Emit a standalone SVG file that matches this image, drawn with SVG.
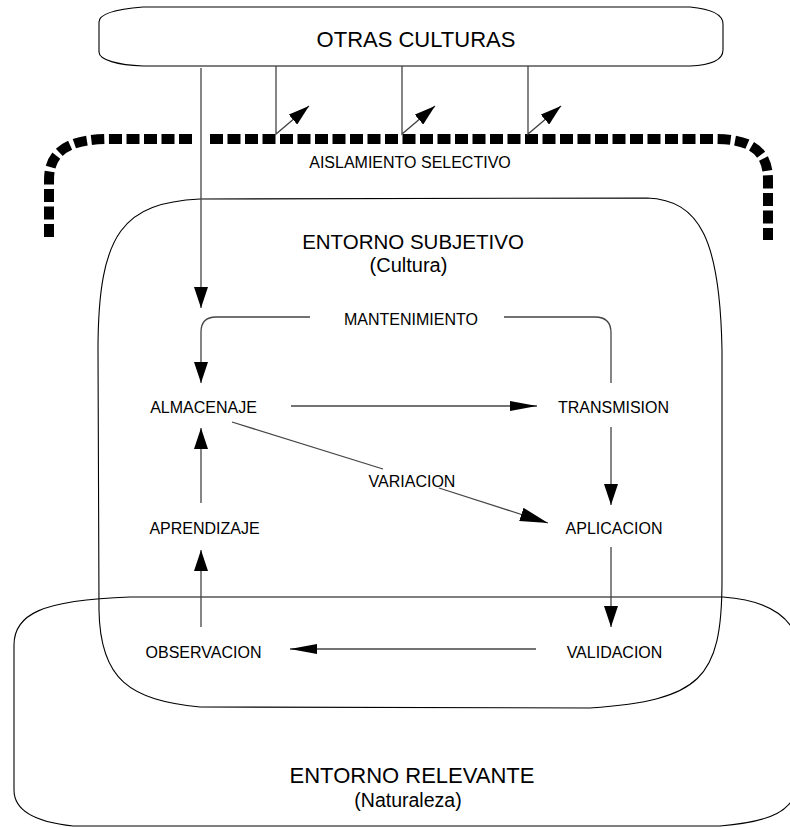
<svg xmlns="http://www.w3.org/2000/svg" width="790" height="827" viewBox="0 0 790 827">
<style>
.box{fill:none;stroke:#000;stroke-width:1.1}
.bar{fill:none;stroke:#000;stroke-width:10;stroke-dasharray:13 4.5}
.c{fill:none;stroke:#444;stroke-width:1.3}
.t{font-family:"Liberation Sans",Arial,sans-serif;fill:#000;text-anchor:middle}
.s16{font-size:16px}
</style>
<defs>
<marker id="v" viewBox="0 0 21 14" refX="21" refY="7" markerWidth="21" markerHeight="14" markerUnits="userSpaceOnUse" orient="auto"><path d="M0,0 L21,7 L0,14 Z" fill="#000"/></marker>
<marker id="h" viewBox="0 0 27 10" refX="27" refY="5" markerWidth="27" markerHeight="10" markerUnits="userSpaceOnUse" orient="auto"><path d="M0,0 L27,5 L0,10 Z" fill="#000"/></marker>
<marker id="d" viewBox="0 0 28 14" refX="28" refY="7" markerWidth="28" markerHeight="14" markerUnits="userSpaceOnUse" orient="auto"><path d="M0,0 L28,7 L0,14 Z" fill="#000"/></marker>
<marker id="s" viewBox="0 0 21 13" refX="21" refY="6.5" markerWidth="21" markerHeight="13" markerUnits="userSpaceOnUse" orient="auto"><path d="M0,0 L21,6.5 L0,13 Z" fill="#000"/></marker>
</defs>
<rect width="790" height="827" fill="#fff"/>

<g id="entorno-relevante">
<path class="box" d="M130,597 L723,597 C765,600 795,615 800,650 L800,780 C795,812 770,822 720,826 L73,826 C35,822 14,810 14,790 L14,645 C14,615 40,600 130,597 Z"/>
<text class="t" x="412" y="783" font-size="22">ENTORNO RELEVANTE</text>
<text class="t" x="408" y="807" font-size="19.5">(Naturaleza)</text>
</g>

<g id="entorno-subjetivo">
<path class="box" d="M200,199 L647,198 C700,200 720,240 722,350 L722,580 C722,680 700,700 590,708 L200,707 C130,700 100,680 99,610 L98,350 C98,230 125,203 200,199 Z"/>
<text class="t" x="413" y="248.5" font-size="20.5">ENTORNO SUBJETIVO</text>
<text class="t" x="408.5" y="271.5" font-size="20">(Cultura)</text>
</g>

<g id="otras-culturas">
<path class="box" d="M143,7 L690,7 C712,9 723,14 723,24 L723,50 C723,60 712,65 690,66 L143,66 C118,65 99,60 99,52 L99,22 C99,13 118,9 143,7 Z"/>
<text class="t" x="416" y="47" font-size="22">OTRAS CULTURAS</text>
</g>

<g id="aislamiento-selectivo">
<path class="bar" d="M192,139 L110,139 C70,139 49,150 49,180 L49,238"/>
<path class="bar" d="M210,139 L715,139 C750,139 768,150 768,180 L768,240"/>
<text class="t" x="410" y="168" font-size="16">AISLAMIENTO SELECTIVO</text>
</g>

<g id="almacenaje"><text class="t s16" x="203.5" y="413">ALMACENAJE</text></g>
<g id="transmision"><text class="t s16" x="613.5" y="413">TRANSMISION</text></g>
<g id="aprendizaje"><text class="t s16" x="204.5" y="534">APRENDIZAJE</text></g>
<g id="aplicacion"><text class="t s16" x="614" y="534">APLICACION</text></g>
<g id="observacion"><text class="t s16" x="203.5" y="658">OBSERVACION</text></g>
<g id="validacion"><text class="t s16" x="614.5" y="658">VALIDACION</text></g>

<g id="connectors">
<path class="c" d="M201,68 L201,308" marker-end="url(#v)"/>
<path class="c" d="M276,66 L276,134 L309,106" marker-end="url(#s)"/>
<path class="c" d="M402,66 L402,134 L435,106" marker-end="url(#s)"/>
<path class="c" d="M528,66 L528,134 L561,106" marker-end="url(#s)"/>
<path class="c" d="M310,317 L216,317 Q201,317 201,332 L201,383" marker-end="url(#v)"/>
<path class="c" d="M504,317 L595,317 Q611,317 611,333 L611,383"/>
<text class="t s16" x="411" y="325">MANTENIMIENTO</text>
<path class="c" d="M291,406 L537,406" marker-end="url(#h)"/>
<path class="c" d="M232,422 L383,469"/>
<path class="c" d="M439,488 L548,523" marker-end="url(#d)"/>
<text class="t s16" x="412" y="487">VARIACION</text>
<path class="c" d="M611,427 L611,505" marker-end="url(#v)"/>
<path class="c" d="M201,503 L201,428" marker-end="url(#v)"/>
<path class="c" d="M611,547 L611,627" marker-end="url(#v)"/>
<path class="c" d="M536,649 L290,649" marker-end="url(#h)"/>
<path class="c" d="M201,627 L201,550" marker-end="url(#v)"/>
</g>
</svg>
